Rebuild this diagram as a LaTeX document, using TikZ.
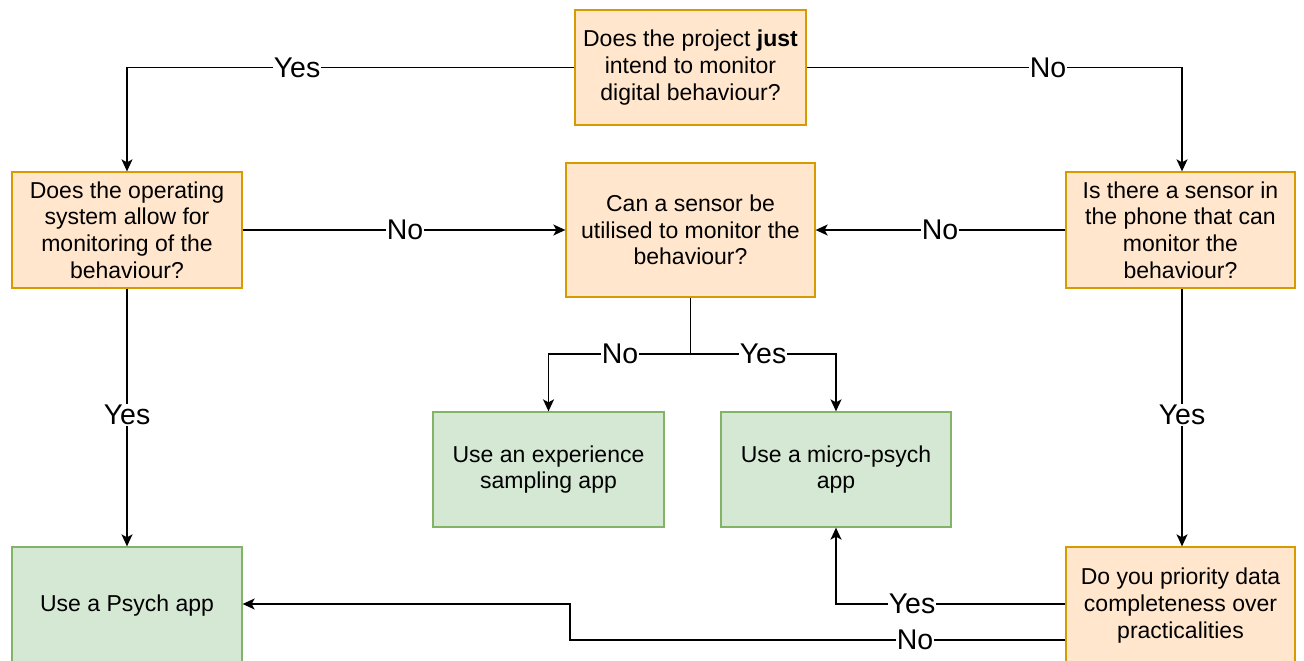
\documentclass[tikz,border=0pt]{standalone}
\usepackage{fontspec}
\setmainfont{Liberation Sans}
\usetikzlibrary{arrows.meta,positioning}
\definecolor{ofill}{HTML}{FFE6CC}
\definecolor{odraw}{HTML}{D79B00}
\definecolor{gfill}{HTML}{D5E8D4}
\definecolor{gdraw}{HTML}{82B366}
\tikzset{
  qbox/.style={draw=odraw,fill=ofill,line width=1.3pt,align=center,inner sep=0pt,
    font=\fontsize{23}{26.7}\selectfont},
  abox/.style={draw=gdraw,fill=gfill,line width=1.3pt,align=center,inner sep=0pt,
    font=\fontsize{23}{26.7}\selectfont},
  conn/.style={line width=1.4pt,-{Stealth[length=12pt,width=11pt,inset=3pt]}},
  plain/.style={line width=1.4pt},
  lbl/.style={fill=white,inner sep=1pt,font=\fontsize{28.5}{32}\selectfont}
}
\begin{document}
\begin{tikzpicture}[x=1pt,y=-1pt]
\useasboundingbox (0,0) rectangle (1304,661);
\node[qbox,minimum width=231pt,minimum height=115pt] (top) at (690.5,67.5) {Does the project \textbf{just}\\intend to monitor\\digital behaviour?};
\node[qbox,minimum width=230pt,minimum height=116pt] (os) at (127,230) {Does the operating\\system allow for\\monitoring of the\\behaviour?};
\node[qbox,minimum width=249pt,minimum height=134pt] (sens) at (690.5,230) {Can a sensor be\\utilised to monitor the\\behaviour?};
\node[qbox,minimum width=229pt,minimum height=116pt] (phone) at (1180.5,230) {Is there a sensor in\\the phone that can\\monitor the\\behaviour?};
\node[abox,minimum width=231pt,minimum height=115pt] (exp) at (548.5,469.5) {Use an experience\\sampling app};
\node[abox,minimum width=230pt,minimum height=115pt] (micro) at (836,469.5) {Use a micro-psych\\app};
\node[abox,minimum width=230pt,minimum height=117pt] (psych) at (127,605.5) {Use a Psych app};
\node[qbox,minimum width=229pt,minimum height=117pt] (prio) at (1180.5,605.5) {Do you priority data\\completeness over\\practicalities};

\coordinate (c1) at (127,67.5);
\coordinate (c2) at (1182,67.5);
\coordinate (c3) at (690.5,354);
\coordinate (c4) at (548.5,354);
\coordinate (c5) at (836,354);
\coordinate (c6) at (836,604);
\coordinate (c7) at (570,640);
\coordinate (c8) at (570,604);

\draw[conn] (top.west) -- (c1) -- (os.north);
\node[lbl] at (297,67.5) {Yes};
\draw[conn] (top.east) -- (c2) -- (phone.north -| c2);
\node[lbl] at (1048,67.5) {No};
\draw[conn] (os.east) -- (sens.west);
\node[lbl] at (405,230) {No};
\draw[conn] (phone.west) -- (sens.east);
\node[lbl] at (940,230) {No};
\draw[plain] (sens.south) -- (c3);
\draw[conn] (c3) -- (c4) -- (exp.north);
\node[lbl] at (620,354) {No};
\draw[conn] (c3) -- (c5) -- (micro.north);
\node[lbl] at (763,354) {Yes};
\draw[conn] (os.south) -- (psych.north);
\node[lbl] at (127,415) {Yes};
\draw[conn] (phone.south -| c2) -- (prio.north -| c2);
\node[lbl] at (1182,415) {Yes};
\draw[conn] (prio.west |- c6) -- (c6) -- (micro.south);
\node[lbl] at (912,604) {Yes};
\draw[conn] (prio.west |- c7) -- (c7) -- (c8) -- (psych.east |- c8);
\node[lbl] at (915,640) {No};
\end{tikzpicture}
\end{document}
